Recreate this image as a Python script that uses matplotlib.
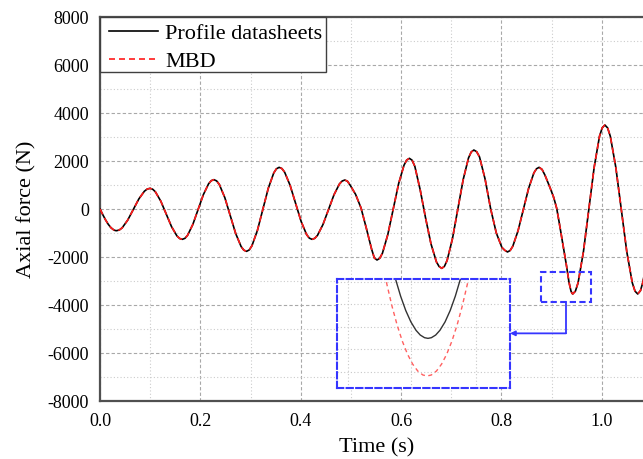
import matplotlib
matplotlib.use("Agg")
import matplotlib.pyplot as plt
from matplotlib.ticker import MultipleLocator

plt.rcParams['font.family'] = ['Liberation Serif', 'DejaVu Serif']
plt.rcParams['axes.unicode_minus'] = False

# ---------------- data ----------------
time_s = [0.000, 0.0055, 0.011, 0.0165, 0.022, 0.0275, 0.03025, 0.033, 0.03855, 0.0441,
          0.0552, 0.0663, 0.0774, 0.0885, 0.09405, 0.0996, 0.10497, 0.1103, 0.1211, 0.1318,
          0.1425, 0.1533, 0.15863, 0.164, 0.16925, 0.1745, 0.185, 0.1955, 0.206, 0.2165,
          0.22175, 0.227, 0.23242, 0.2378, 0.2487, 0.2595, 0.2703, 0.2812, 0.28658, 0.292,
          0.29742, 0.3028, 0.3137, 0.3245, 0.3353, 0.3462, 0.35158, 0.357, 0.36246, 0.3679,
          0.3788, 0.3898, 0.4007, 0.4116, 0.41704, 0.4225, 0.42796, 0.4334, 0.4443, 0.4553,
          0.4662, 0.4771, 0.48254, 0.488, 0.49333, 0.4987, 0.5093, 0.520, 0.5307, 0.5413,
          0.54667, 0.552, 0.55738, 0.5628, 0.5735, 0.5843, 0.595, 0.6058, 0.61113, 0.6165,
          0.62188, 0.6273, 0.638, 0.6488, 0.6595, 0.6703, 0.67563, 0.681, 0.68633, 0.6917,
          0.7023, 0.713, 0.7237, 0.7343, 0.73967, 0.745, 0.75058, 0.7562, 0.7673, 0.7785,
          0.7897, 0.8008, 0.80642, 0.812, 0.81725, 0.8225, 0.833, 0.8435, 0.854, 0.8645,
          0.86975, 0.875, 0.8808, 0.8865, 0.896, 0.904, 0.910, 0.915, 0.920, 0.925,
          0.930, 0.9345, 0.9385, 0.9403, 0.942, 0.94733, 0.9527, 0.9633, 0.974, 0.9847,
          0.9953, 1.00067, 1.006, 1.01146, 1.0169, 1.0278, 1.0388, 1.0497, 1.0606, 1.06604,
          1.0715, 1.077, 1.082, 1.088]
profile_force = [0, -234, -452, -639, -783, -873, -896, -904, -874, -786,
                 -463, -22, 419, 742, 830, 860, 824, 718, 329, -202,
                 -733, -1122, -1228, -1264, -1222, -1097, -642, -21, 601, 1055,
                 1180, 1222, 1171, 1022, 475, -272, -1018, -1565, -1714, -1765,
                 -1705, -1530, -890, -14, 861, 1501, 1676, 1736, 1685, 1535,
                 986, 236, -514, -1063, -1213, -1264, -1222, -1098, -646, -28,
                 590, 1042, 1166, 1208, 1151, 985, 610, 50, -800, -1680,
                 -2040, -2125, -2053, -1841, -1066, -7, 1052, 1827, 2039, 2111,
                 2033, 1780, 800, -380, -1450, -2200, -2394, -2472, -2388, -2142,
                 -1239, -7, 1226, 2128, 2374, 2458, 2386, 2173, 1250, 0,
                 -1000, -1600, -1718, -1790, -1730, -1554, -908, -27, 855, 1500,
                 1676, 1736, 1650, 1417, 929, 487, 30, -560, -1190, -1800,
                 -2420, -3050, -3420, -3500, -3542, -3422, -3070, -1781, -21, 1740,
                 3028, 3380, 3500, 3380, 3028, 1739, -21, -1782, -3070, -3422,
                 -3542, -3400, -3030, -2300]
mbd_force = list(profile_force)  # MBD overlaps the datasheet curve at full scale

# zoomed detail around the trough near t = 0.93 s
inset_time_profile = [0.909, 0.912, 0.915, 0.918, 0.921, 0.924, 0.9265, 0.929, 0.931,
                      0.933, 0.9355, 0.938, 0.941, 0.944, 0.947, 0.950, 0.953]
inset_force_profile = [-2370, -2609, -2812, -2981, -3115, -3214, -3270, -3301, -3309,
                       -3301, -3270, -3214, -3115, -2981, -2812, -2609, -2370]
inset_time_mbd = [0.904, 0.907, 0.910, 0.913, 0.916, 0.919, 0.922, 0.925, 0.928, 0.9305,
                  0.933, 0.936, 0.939, 0.942, 0.945, 0.948, 0.951, 0.954, 0.957]
inset_force_mbd = [-2383, -2675, -2933, -3155, -3342, -3494, -3611, -3693, -3740, -3752,
                   -3740, -3693, -3611, -3494, -3342, -3155, -2933, -2675, -2383]

x_ticks = [0.0, 0.2, 0.4, 0.6, 0.8, 1.0]
x_tick_labels = ['0.0', '0.2', '0.4', '0.6', '0.8', '1.0']
y_ticks = [-8000, -6000, -4000, -2000, 0, 2000, 4000, 6000, 8000]
y_tick_labels = ['-8000', '-6000', '-4000', '-2000', '0', '2000', '4000', '6000', '8000']

zoom_x = (0.878, 0.979)          # region magnified
zoom_y = (-3890, -2610)
inset_x = (0.473, 0.817)         # where the magnified view is placed
inset_y = (-7446, -2917)

# ---------------- figure ----------------
BLUE = '#3535ff'
fig = plt.figure(figsize=(6.43, 4.59), dpi=100)
ax = fig.add_axes([100/643, 58/459, 543/643, 384/459])

ax.set_xlim(0, 1.082)
ax.set_ylim(-8000, 8000)
ax.set_xticks(x_ticks)
ax.set_xticklabels(x_tick_labels)
ax.set_yticks(y_ticks)
ax.set_yticklabels(y_tick_labels)
ax.xaxis.set_minor_locator(MultipleLocator(0.1))
ax.yaxis.set_minor_locator(MultipleLocator(1000))
ax.tick_params(which='both', length=0, labelsize=13, colors='black')
ax.tick_params(axis='y', pad=8)
ax.tick_params(axis='x', pad=9)
ax.set_axisbelow(True)
ax.grid(which='major', linestyle=(0, (3, 2)), color='#a8a8a8', linewidth=0.8)
ax.grid(which='minor', linestyle=(0, (1, 2)), color='#cccccc', linewidth=0.8)

for side in ['left', 'bottom', 'top']:
    ax.spines[side].set_color('#505050')
    ax.spines[side].set_linewidth(1.6)
ax.spines['right'].set_visible(False)

ax.plot(time_s, profile_force, color='black', linewidth=1.2, label='Profile datasheets', zorder=3)
ax.plot(time_s, mbd_force, color='#ff1a1a', linewidth=1.2, linestyle=(0, (3.6, 2.4)),
        label='MBD', zorder=4)

ax.set_xlabel('Time (s)', fontsize=16)
ax.xaxis.set_label_coords(0.51, -0.098)
ax.set_ylabel('Axial force (N)', fontsize=16, labelpad=8)

# legend frame drawn separately so the entries can sit with the reference's padding
ax.add_patch(plt.Rectangle((0, 1 - 55/384), 226/543, 55/384, transform=ax.transAxes,
                           facecolor='white', edgecolor='#404040', linewidth=1.0,
                           zorder=9, clip_on=False))
leg = ax.legend(loc='upper left', bbox_to_anchor=(6/543, 1 - 3/384), borderaxespad=0,
                fontsize=16, frameon=False, handlelength=2.2,
                handletextpad=0.3, borderpad=0.15, labelspacing=0.35)
leg.set_zorder(10)

# small zoom box
ax.add_patch(plt.Rectangle((zoom_x[0], zoom_y[0]), zoom_x[1] - zoom_x[0], zoom_y[1] - zoom_y[0],
                           fill=False, edgecolor=BLUE, linewidth=1.5, linestyle=(0, (3, 1.6)),
                           zorder=6))

# inset axes
ins = ax.inset_axes([inset_x[0], inset_y[0], inset_x[1] - inset_x[0], inset_y[1] - inset_y[0]],
                    transform=ax.transData)
ins.set_xlim(*zoom_x)
ins.set_ylim(*zoom_y)
ins.set_facecolor('white')
xs = [zoom_x[0] + f * (zoom_x[1] - zoom_x[0]) for f in (0.06, 0.428, 0.805)]
ys = [zoom_y[0] + f * (zoom_y[1] - zoom_y[0]) for f in (0.147, 0.353, 0.561, 0.767, 0.974)]
ins.set_xticks(xs)
ins.set_yticks(ys)
ins.tick_params(length=0, labelbottom=False, labelleft=False)
ins.grid(True, linestyle=(0, (1, 2)), color='#c8c8c8', linewidth=0.8)
ins.set_axisbelow(True)
ins.plot(inset_time_profile, inset_force_profile, color='#333333', linewidth=1.0)
ins.plot(inset_time_mbd, inset_force_mbd, color='#ff6060', linewidth=1.0, linestyle=(0, (3, 2.5)))
for sp in ins.spines.values():
    sp.set_color(BLUE)
    sp.set_linewidth(1.5)
    sp.set_linestyle((0, (3, 1.6)))

# connector from zoom box to inset
cx = (zoom_x[0] + zoom_x[1]) / 2
cy = (inset_y[0] + inset_y[1]) / 2
ax.plot([cx, cx], [zoom_y[0], cy], color=BLUE, linewidth=1.3, zorder=6)
ax.annotate('', xy=(inset_x[1], cy), xytext=(cx, cy),
            arrowprops=dict(arrowstyle='-|>', color=BLUE, lw=1.3, mutation_scale=7,
                            shrinkA=0, shrinkB=0), zorder=6)

fig.savefig('out.png', dpi=100)
